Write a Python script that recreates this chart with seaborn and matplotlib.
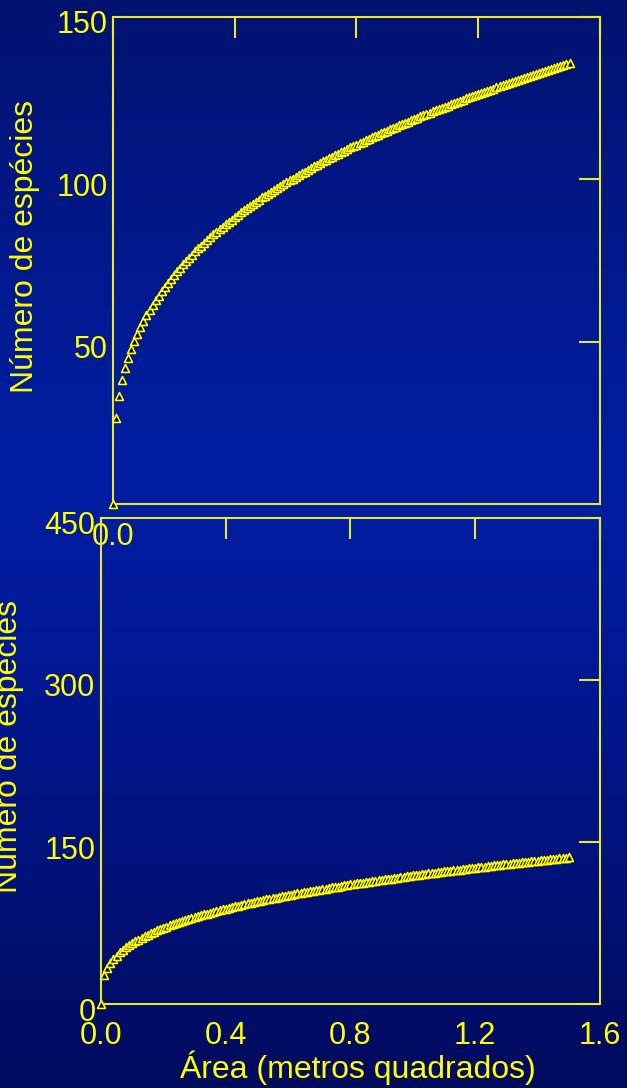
import numpy as np
import matplotlib
matplotlib.use("Agg")
import matplotlib.pyplot as plt
import matplotlib.transforms as mtrans
import seaborn as sns
from matplotlib.colors import LinearSegmentedColormap

# Area (square metres): one sample every 0.01 m2 from 0 to 1.50
area = [round(0.01 * k, 2) for k in range(151)]
species = [0.0, 26.6, 33.4, 38.1, 41.8, 44.9, 47.7, 50.1, 52.4, 54.4, 56.3, 58.1, 59.7, 61.3, 62.8,
           64.2, 65.6, 66.9, 68.2, 69.4, 70.5, 71.7, 72.7, 73.8, 74.8, 75.8, 76.8, 77.8, 78.7, 79.6,
           80.5, 81.3, 82.2, 83.0, 83.8, 84.6, 85.4, 86.1, 86.9, 87.6, 88.3, 89.1, 89.8, 90.5, 91.1,
           91.8, 92.5, 93.1, 93.7, 94.4, 95.0, 95.6, 96.2, 96.8, 97.4, 98.0, 98.6, 99.1, 99.7, 100.2,
           100.8, 101.3, 101.9, 102.4, 102.9, 103.5, 104.0, 104.5, 105.0, 105.5, 106.0, 106.5, 106.9,
           107.4, 107.9, 108.4, 108.8, 109.3, 109.8, 110.2, 110.7, 111.1, 111.6, 112.0, 112.4, 112.9,
           113.3, 113.7, 114.2, 114.6, 115.0, 115.4, 115.8, 116.2, 116.6, 117.0, 117.4, 117.8, 118.2,
           118.6, 119.0, 119.4, 119.8, 120.1, 120.5, 120.9, 121.3, 121.6, 122.0, 122.4, 122.7, 123.1,
           123.5, 123.8, 124.2, 124.5, 124.9, 125.2, 125.6, 125.9, 126.3, 126.6, 126.9, 127.3, 127.6,
           127.9, 128.3, 128.6, 128.9, 129.3, 129.6, 129.9, 130.2, 130.6, 130.9, 131.2, 131.5, 131.8,
           132.1, 132.4, 132.7, 133.1, 133.4, 133.7, 134.0, 134.3, 134.6, 134.9, 135.2, 135.5, 135.8]

top_yticks = [50, 100, 150]
bottom_yticks = [0, 150, 300, 450]
xticks = [0, 0.4, 0.8, 1.2, 1.6]
xtick_labels = ['0.0', '0.4', '0.8', '1.2', '1.6']
ylabel = 'Número de espécies'
xlabel = 'Área (metros quadrados)'

sns.set_style("white")
plt.rcParams['font.family'] = ['Liberation Sans', 'DejaVu Sans']
YEL = '#FFFF00'
SPINE = '#E8E830'

fig = plt.figure(figsize=(6.27, 10.88), dpi=100)
bg = fig.add_axes([0, 0, 1, 1], zorder=-10)
cmap = LinearSegmentedColormap.from_list(
    'bg', [(0, '#000B5E'), (0.45, '#001A9C'), (0.58, '#001EA2'), (1, '#001270')])
bg.imshow(np.linspace(0, 1, 256).reshape(-1, 1), aspect='auto', cmap=cmap,
          origin='lower', extent=[0, 1, 0, 1])
bg.axis('off')

ax1 = fig.add_axes([0.1802, 0.5368, 0.7767, 0.4476])
ax2 = fig.add_axes([0.1611, 0.0772, 0.7958, 0.4467])
for ax in (ax1, ax2):
    ax.set_facecolor('none')
    sns.scatterplot(x=area, y=species, ax=ax, marker='^', s=32, facecolor='#000018',
                    edgecolor=YEL, linewidth=1.2, clip_on=False, zorder=5)
    ax.set_xlim(0, 1.6)
    for sp in ax.spines.values():
        sp.set_color(SPINE)
        sp.set_linewidth(1.5)
    ax.tick_params(direction='in', length=15, width=1.5, color=SPINE, labelcolor=YEL,
                   labelsize=22, top=True, right=True)
    ax.tick_params(axis='y', pad=4)
    ax.set_ylabel(ylabel, color=YEL, fontsize=23)

# tick labels sit a few pixels below their ticks, as in the reference
off = mtrans.ScaledTranslation(0, -5 / 100, fig.dpi_scale_trans)

ax1.set_ylim(0, 150)
ax1.set_yticks(top_yticks)
for lab in ax1.get_yticklabels():
    lab.set_transform(lab.get_transform() + off)
ax1.set_xticks(xticks, [xtick_labels[0]] + [''] * 4)
ax1.tick_params(axis='x', pad=13)
ax1.yaxis.set_label_coords(-0.150, 0.528)

ax2.set_ylim(0, 450)
ax2.set_yticks(bottom_yticks)
for lab in ax2.get_yticklabels():
    lab.set_transform(lab.get_transform() + off)
ax2.set_xticks(xticks, xtick_labels)
ax2.tick_params(axis='x', pad=12)
ax2.yaxis.set_label_coords(-0.154, 0.529)
ax2.set_xlabel(xlabel, color=YEL, fontsize=23)
ax2.xaxis.set_label_coords(0.515, -0.095)

fig.savefig('out.png', dpi=100)
